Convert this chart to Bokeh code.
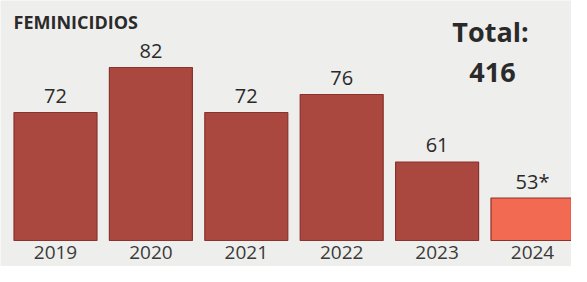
from bokeh.plotting import figure
from bokeh.models import Range1d, ColumnDataSource, Label
from bokeh.core.properties import value
from bokeh.embed import file_html
from bokeh.resources import INLINE

years = ["2019", "2020", "2021", "2022", "2023", "2024"]
counts = [72, 82, 72, 76, 61, 53]
count_labels = ["72", "82", "72", "76", "61", "53*"]
bar_colors = ["#aa473f", "#aa473f", "#aa473f", "#aa473f", "#aa473f", "#f26a51"]
total = sum(counts)

BASE = 43.56
Y0, Y1 = 37.78, 96.89
X0, X1 = -0.5765, 5.4089

xs = list(range(len(years)))

p = figure(width=571, height=266, output_backend="svg", toolbar_location=None,
           x_range=Range1d(X0, X1), y_range=Range1d(Y0, Y1),
           min_border=0, background_fill_color="#eeeeec", border_fill_color="#eeeeec")
p.axis.visible = False
p.grid.visible = False
p.outline_line_color = None

src = ColumnDataSource(dict(x=xs, year=years, top=counts, color=bar_colors, lab=count_labels,
                            base=[BASE] * len(years), yb=[Y0] * len(years)))
p.vbar(x="x", top="top", bottom="base", width=0.87, fill_color="color",
       line_color="#8a322d", line_width=1.2, source=src)
p.text(x="x", y="top", text="lab", source=src, text_align="center", text_baseline="middle",
       y_offset=-17, text_font=value("Open Sans"), text_font_size="20px",
       text_font_style="normal", text_color="#2a2a2a")
p.text(x="x", y="yb", text="year", source=src, text_align="center", text_baseline="middle",
       y_offset=-14, text_font=value("Open Sans"), text_font_size="19px",
       text_color="#3a3a3a")

H = 266
p.add_layout(Label(x=13, y=H - 21, x_units="screen", y_units="screen", text="FEMINICIDIOS",
                   text_font="Open Sans", text_font_size="18px", text_font_style="bold",
                   text_color="#2a2a2a", text_baseline="middle"))
p.add_layout(Label(x=490, y=H - 31, x_units="screen", y_units="screen", text="Total:",
                   text_font="Open Sans", text_font_size="27px", text_font_style="bold",
                   text_color="#2a2a2a", text_align="center", text_baseline="middle"))
p.add_layout(Label(x=492, y=H - 72, x_units="screen", y_units="screen", text=str(total),
                   text_font="Open Sans", text_font_size="27px", text_font_style="bold",
                   text_color="#2a2a2a", text_align="center", text_baseline="middle"))

open("out.html", "w").write(file_html(p, INLINE))
